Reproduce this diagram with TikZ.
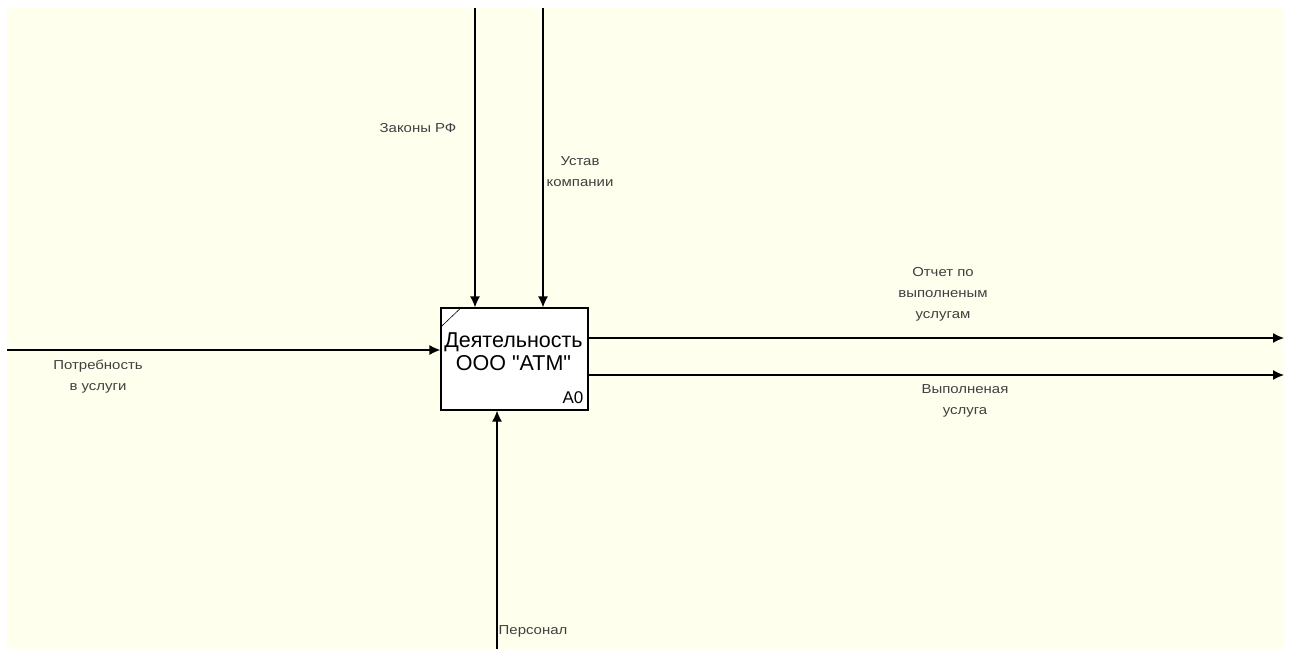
\documentclass[tikz,border=0pt]{standalone}
\usepackage{fontspec}
\setmainfont{Liberation Sans}
\newfontfamily\lblfont[FakeStretch=1.15]{Liberation Sans}
\newfontfamily\boxfont{Liberation Sans}
\usetikzlibrary{arrows.meta,positioning,calc}
\definecolor{paper}{RGB}{255,255,238}

\begin{document}
\begin{tikzpicture}[
  x=1pt, y=-1pt,
  actbox/.style={draw=black, fill=white, line width=1.2pt, minimum width=147pt,
                 minimum height=102pt, inner sep=0pt},
  arrow/.style={-{Latex[length=11pt,width=10pt]}, line width=1.3pt, draw=black},
  lbl/.style={font=\lblfont\fontsize{13}{21}\selectfont, align=center, text=black!75, inner sep=0pt},
  title/.style={font=\boxfont\fontsize{21.5}{23}\selectfont, align=center, inner sep=0pt}
]
\useasboundingbox (0,0) rectangle (1292,650);
\fill[paper] (7,8) rectangle (1284,649);
% activity box
\node[actbox] (act) at (514.5,359) {};
\draw[line width=0.6pt] ($(act.north west)+(1,19)$) -- ($(act.north west)+(21,0)$);
\node[title] (actname) at ($(act.center)+(-1,-7)$) {Деятельность\\ООО "АТМ"};
\node[font=\boxfont\fontsize{17}{17}\selectfont, anchor=south east, inner sep=0pt]
  (num) at ($(act.south east)+(-5,-7)$) {A0};
% free ends
\coordinate (lawtop) at (475,8);
\coordinate (chartop) at (543,8);
\coordinate (needin) at (7,350);
\coordinate (staffin) at (497,649);
\coordinate (repout) at (1284,338);
\coordinate (svcout) at (1284,375);
% connectors
\draw[arrow] (lawtop) -- (lawtop |- act.north);
\draw[arrow] (chartop) -- (chartop |- act.north);
\draw[arrow] (needin) -- (needin -| act.west);
\draw[arrow] (staffin) -- (staffin |- act.south);
\draw[arrow] (repout -| act.east) -- (repout);
\draw[arrow] (svcout -| act.east) -- (svcout);
% labels
\node[lbl] (lawlbl) at (418,128) {Законы РФ};
\node[lbl] (charlbl) at (580,172) {Устав\\компании};
\node[lbl] (needlbl) at (98,377) {Потребность\\в услуги};
\node[lbl] (replbl) at (943,294) {Отчет по\\выполненым\\услугам};
\node[lbl] (svclbl) at (965,401) {Выполненая\\услуга};
\node[lbl] (stafflbl) at (533,631) {Персонал};
\end{tikzpicture}
\end{document}
